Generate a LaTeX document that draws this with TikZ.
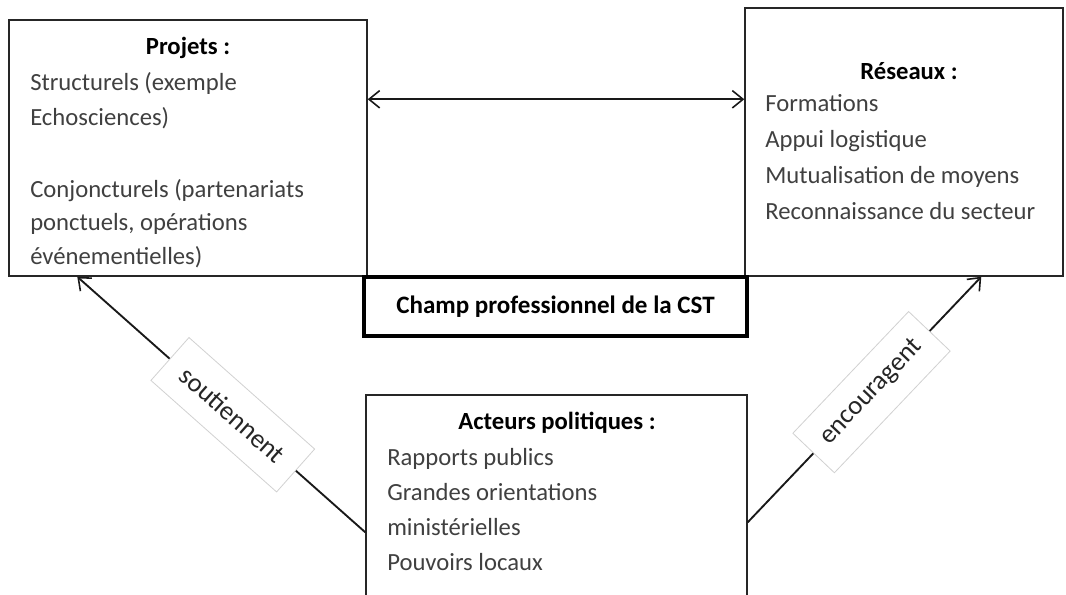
\documentclass[tikz,border=0pt]{standalone}
\usepackage{fontspec}
\setmainfont{Carlito}
\usetikzlibrary{arrows.meta,calc}
\begin{document}
\begin{tikzpicture}[x=0.75pt,y=-0.75pt,
  >={Straight Barb[length=8pt,width=13pt,line width=1.2pt]},
  box/.style={draw=black!85,line width=1.1pt,inner sep=0pt,fill=none},
  champbox/.style={draw=black,line width=3pt,inner sep=0pt},
  ttl/.style={anchor=base,inner sep=0pt,font=\fontsize{18.5}{22}\selectfont\bfseries,text=black},
  body/.style={anchor=base west,inner sep=0pt,font=\fontsize{18.5}{22}\selectfont,text=black!75},
  conn/.style={line width=1.4pt,draw=black!90,->},
  lbl/.style={draw=black!18,line width=0.6pt,fill=white,sloped,minimum width=126pt,minimum height=43pt,inner sep=0pt,font=\fontsize{20}{24}\selectfont,text=black!85}
]
\clip (0,0) rectangle (1066,594);
\fill[white] (0,0) rectangle (1066,594);

% boxes
\node[box,minimum width=268.5pt,minimum height=192pt] (proj) at (188,148) {};
\node[box,minimum width=238.5pt,minimum height=201pt] (res) at (904,142) {};
\node[box,minimum width=285.75pt,minimum height=161.25pt] (act) at (556.5,502.5) {};
\node[champbox,minimum width=287pt,minimum height=44pt,font=\fontsize{18.8}{22}\selectfont\bfseries] (champ) at (555.5,306.5) {Champ professionnel de la CST};

% Projets text
\node[ttl] (pt) at (188,54) {Projets :};
\node[body] (p1) at (30,90) {Structurels (exemple};
\node[body] (p2) at (30,125) {Echosciences)};
\node[body] (p3) at (30,197) {Conjoncturels (partenariats};
\node[body] (p4) at (30,230) {ponctuels, opérations};
\node[body] (p5) at (30,264) {événementielles)};

% Réseaux text
\node[ttl] (rt) at (909,79) {Réseaux :};
\node[body] (r1) at (765,111) {Formations};
\node[body] (r2) at (765,147) {Appui logistique};
\node[body] (r3) at (765,183) {Mutualisation de moyens};
\node[body] (r4) at (765,219) {Reconnaissance du secteur};

% Acteurs text
\node[ttl] (at) at (557,429) {Acteurs politiques :};
\node[body] (a1) at (387,465) {Rapports publics};
\node[body] (a2) at (387,500) {Grandes orientations};
\node[body] (a3) at (387,535) {ministérielles};
\node[body] (a4) at (387,570) {Pouvoirs locaux};

% connectors
\coordinate (pr) at ($(proj.north east)+(0,80)$);
\coordinate (rl) at ($(res.north west)+(0,92)$);
\draw[conn,<->] (pr) -- (rl);

\coordinate (aw) at ($(act.north west)+(0,138)$);
\coordinate (pb) at ($(proj.south west)+(69,0)$);
\draw[conn] (aw) -- node[lbl,pos=0.46] (ls) {soutiennent} (pb);

\coordinate (ae) at ($(act.north east)+(0,128)$);
\coordinate (rb) at ($(res.south west)+(237,0)$);
\draw[conn] (ae) -- node[lbl,pos=0.53] (le) {encouragent} (rb);
\end{tikzpicture}
\end{document}
